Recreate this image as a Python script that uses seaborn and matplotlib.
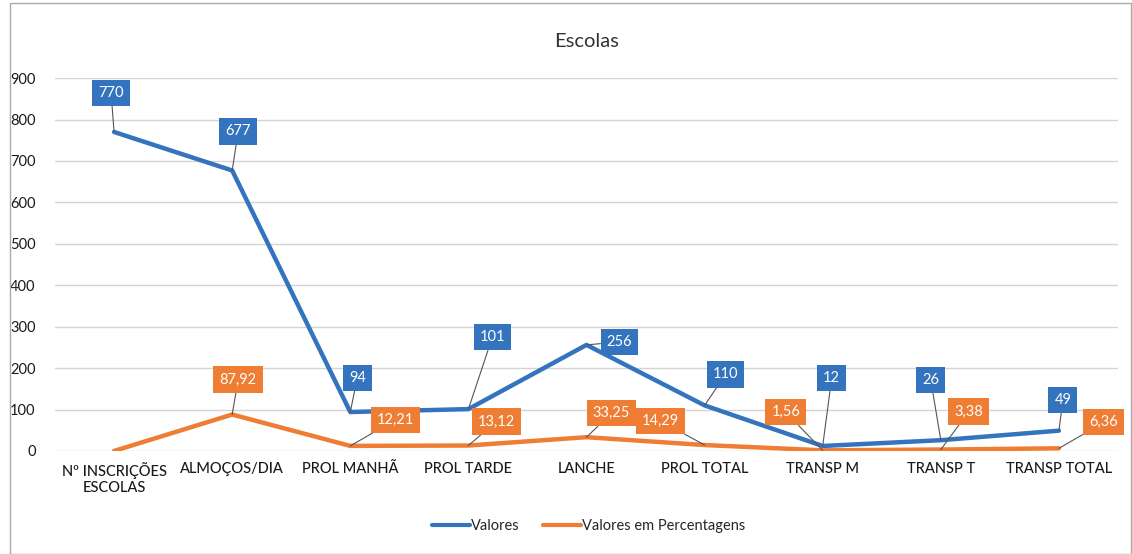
import pandas as pd
import matplotlib.pyplot as plt
import matplotlib.patches as mpatches
import seaborn as sns

# Dados do gráfico
categorias = ['Nº INSCRIÇÕES\nESCOLAS', 'ALMOÇOS/DIA', 'PROL MANHÃ', 'PROL TARDE', 'LANCHE',
              'PROL TOTAL', 'TRANSP M', 'TRANSP T', 'TRANSP TOTAL']
valores = [770, 677, 94, 101, 256, 110, 12, 26, 49]
percentagens = [0, 87.92, 12.21, 13.12, 33.25, 14.29, 1.56, 3.38, 6.36]

# posição das etiquetas (deslocamento em pixels relativamente ao ponto)
off_valores = [(-3, 39), (6, 39), (7, 34), (24, 72), (33, 3), (21, 31), (9, 68), (-10, 60), (4, 31)]
off_perc = [None, (6, 35), (45, 26), (28, 24), (25, 24), (-44, 24), (-37, 38), (28, 38), (45, 26)]

azul = '#3474BE'
laranja = '#EF7D33'

df = pd.DataFrame({
    'pos': list(range(len(categorias))) * 2,
    'valor': valores + percentagens,
    'serie': ['Valores'] * len(valores) + ['Valores em Percentagens'] * len(percentagens),
})

sns.set_style('white')
plt.rcParams['font.family'] = ['Lato', 'DejaVu Sans']

fig = plt.figure(figsize=(11.32, 5.54), dpi=100)
ax = fig.add_axes([0.0486, 0.186, 0.939, 0.673])

sns.lineplot(data=df, x='pos', y='valor', hue='serie', palette=[azul, laranja],
             linewidth=3.2, ax=ax, legend=False)

ax.set_xlim(-0.5, len(categorias) - 0.5)
ax.set_ylim(0, 900)
ax.set_yticks(range(0, 1000, 100))
ax.set_xticks(range(len(categorias)))
ax.set_xticklabels(categorias, fontsize=10.5, color='#1a1a1a', fontweight='medium')
ax.tick_params(axis='y', labelsize=10.5, colors='#1a1a1a', length=0, pad=14)
ax.tick_params(axis='x', length=0, pad=8)
ax.yaxis.grid(True, color='#d4d4d4', linewidth=1)
for s in ax.spines.values():
    s.set_visible(False)
ax.set_xlabel('')
ax.set_ylabel('')


def etiqueta(x, y, txt, off, cor):
    ax.annotate(txt, xy=(x, y), xytext=(off[0] * 0.72, off[1] * 0.72),
                textcoords='offset points', ha='center', va='center',
                fontsize=10.5, color='white',
                bbox=dict(boxstyle='square,pad=0.42', facecolor=cor, edgecolor='none'),
                arrowprops=dict(arrowstyle='-', color='#555555', lw=0.8,
                                shrinkA=0, shrinkB=0))


for i, v in enumerate(valores):
    etiqueta(i, v, str(v), off_valores[i], azul)
for i, v in enumerate(percentagens):
    if off_perc[i] is None:
        continue
    etiqueta(i, v, f'{v:.2f}'.replace('.', ','), off_perc[i], laranja)

fig.text(0.518, 0.925, 'Escolas', ha='center', va='center', fontsize=14.5, color='#333333')

handles = [plt.Line2D([], [], color=azul, lw=3), plt.Line2D([], [], color=laranja, lw=3)]
fig.legend(handles, ['Valores', 'Valores em Percentagens'], loc='center',
           bbox_to_anchor=(0.52, 0.05), ncol=2, frameon=False, fontsize=10.5,
           handlelength=2.6, handletextpad=0.1, columnspacing=1.6)

# moldura do gráfico
fig.patches.append(mpatches.Rectangle((0.009, 0.0), 0.99, 0.995, transform=fig.transFigure,
                                      fill=False, edgecolor='#aaaaaa', linewidth=1))

plt.savefig('out.png', dpi=100)
